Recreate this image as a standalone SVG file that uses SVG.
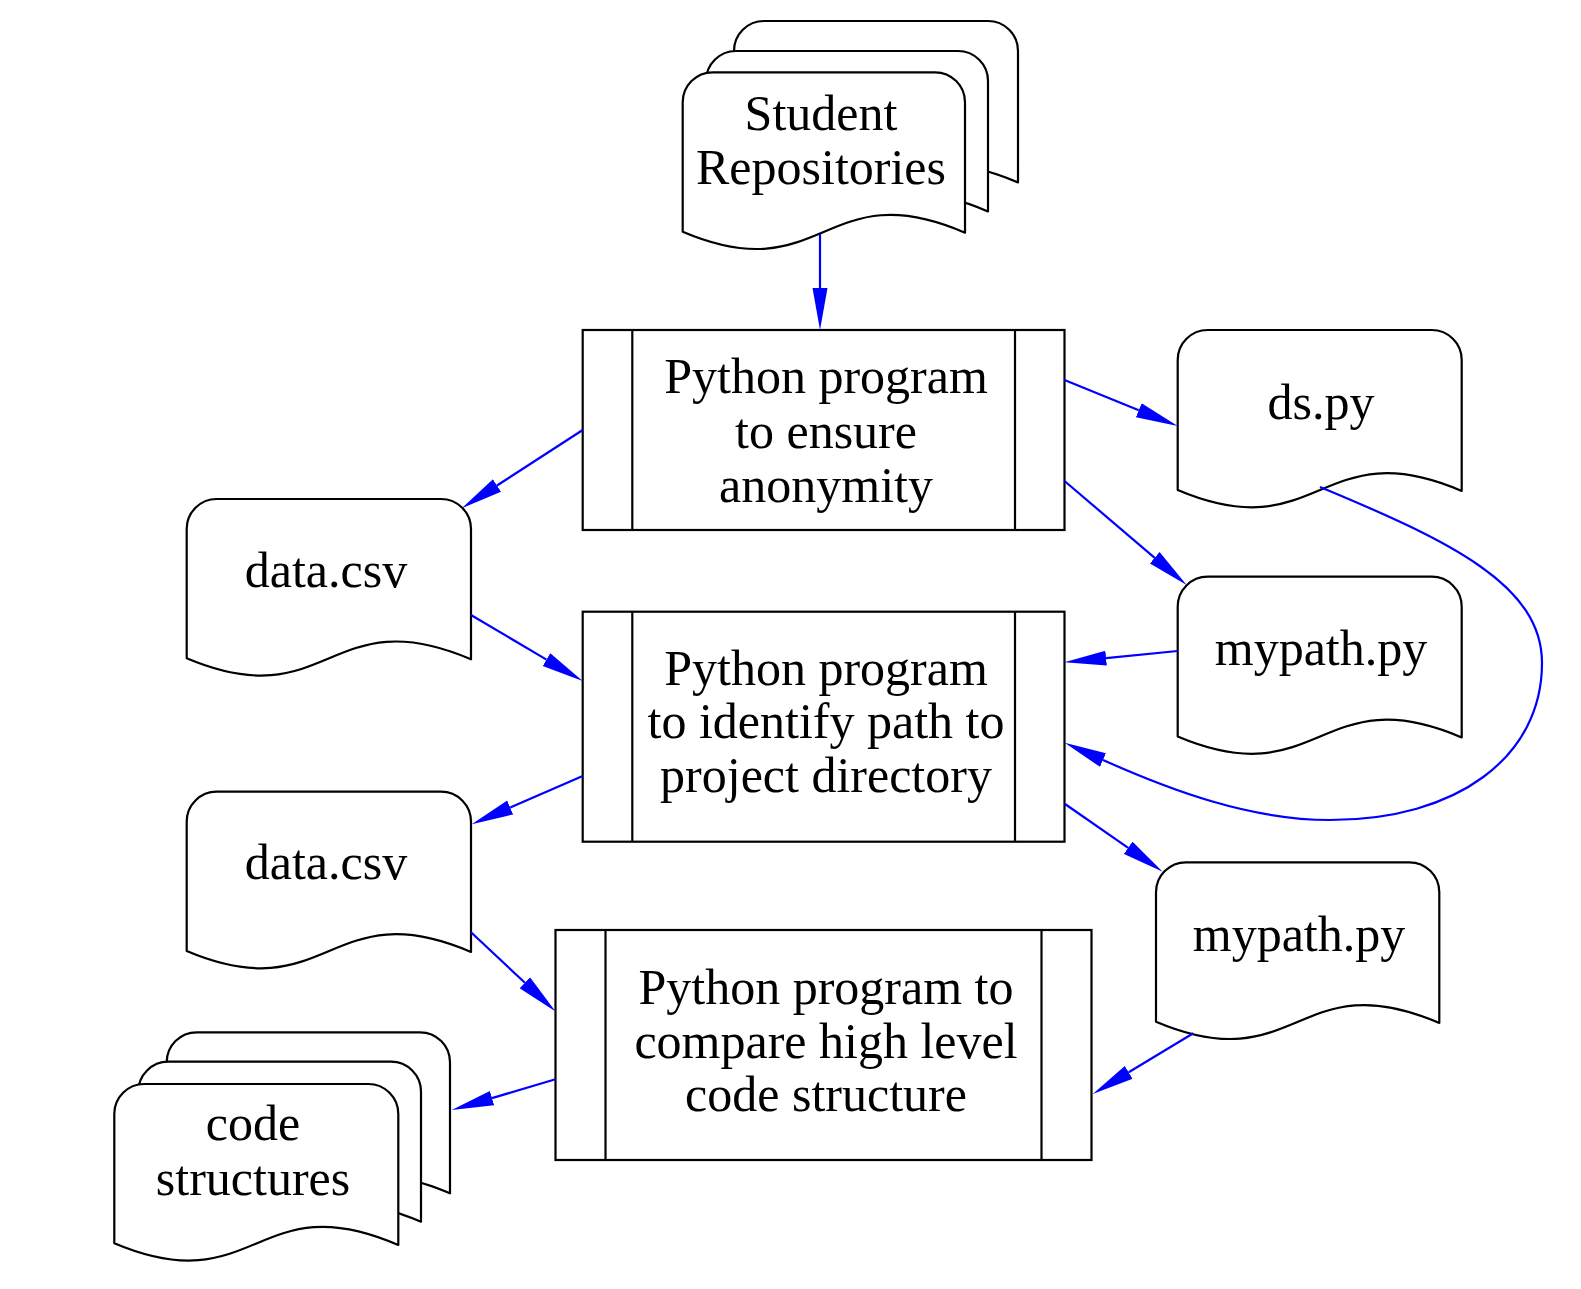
<svg xmlns="http://www.w3.org/2000/svg" width="1581" height="1289" viewBox="0 0 1581 1289">
<style>
.doc{fill:#fff;stroke:#000;stroke-width:2.2;stroke-linejoin:round}
.proc{fill:#fff;stroke:#000;stroke-width:2.2}
.sep{stroke:#000;stroke-width:2.2}
.lbl{font-family:"Liberation Serif","Times New Roman",serif;font-size:50px;fill:#000;text-anchor:middle}
.edge{fill:none;stroke:#0000ff;stroke-width:2.2;marker-end:url(#ah)}
</style>
<defs>
<marker id="ah" markerUnits="userSpaceOnUse" markerWidth="44" markerHeight="16" refX="0" refY="8" orient="auto">
<path d="M0,0.5 L42,8 L0,15.5 Z" fill="#0000ff"/>
</marker>
</defs>
<rect width="1581" height="1289" fill="#fff"/>

<g id="student_repositories">
<path class="doc" d="M734,181.5 V51 A30,30 0 0 1 764,21 H988 A30,30 0 0 1 1018,51 V182.5 C876,121.5 876,241.5 734,181.5 Z"/>
<path class="doc" d="M706,210.5 V81 A30,30 0 0 1 736,51 H958 A30,30 0 0 1 988,81 V211.5 C847,150.5 847,270.5 706,210.5 Z"/>
<path class="doc" d="M682.7,231.7 V102.3 A30,30 0 0 1 712.7,72.3 H935 A30,30 0 0 1 965,102.3 V232.7 C823.8,171.7 823.8,291.7 682.7,231.7 Z"/>
<text class="lbl" x="821" y="130">Student</text>
<text class="lbl" x="821" y="184">Repositories</text>
</g>

<g id="proc_anonymity">
<rect class="proc" x="582.7" y="330" width="481.8" height="200"/>
<line class="sep" x1="632.3" y1="330" x2="632.3" y2="530"/>
<line class="sep" x1="1015" y1="330" x2="1015" y2="530"/>
<text class="lbl" x="826" y="393.3">Python program</text>
<text class="lbl" x="826" y="447.7">to ensure</text>
<text class="lbl" x="826" y="501.7">anonymity</text>
</g>

<g id="ds_py">
<path class="doc" d="M1177.7,490 V360 A30,30 0 0 1 1207.7,330 H1431.7 A30,30 0 0 1 1461.7,360 V491 C1319.7,430 1319.7,550 1177.7,490 Z"/>
<text class="lbl" x="1321" y="419">ds.py</text>
</g>

<g id="mypath_py_1">
<path class="doc" d="M1177.7,736.5 V606.7 A30,30 0 0 1 1207.7,576.7 H1431.7 A30,30 0 0 1 1461.7,606.7 V737.5 C1319.7,676.5 1319.7,796.5 1177.7,736.5 Z"/>
<text class="lbl" x="1321" y="665">mypath.py</text>
</g>

<g id="data_csv_1">
<path class="doc" d="M186.7,658.3 V529 A30,30 0 0 1 216.7,499 H441 A30,30 0 0 1 471,529 V659.3 C328.8,598.3 328.8,718.3 186.7,658.3 Z"/>
<text class="lbl" x="326" y="587.3">data.csv</text>
</g>

<g id="proc_identify_path">
<rect class="proc" x="582.7" y="611.7" width="481.8" height="230"/>
<line class="sep" x1="632.3" y1="611.7" x2="632.3" y2="841.7"/>
<line class="sep" x1="1015" y1="611.7" x2="1015" y2="841.7"/>
<text class="lbl" x="826" y="685">Python program</text>
<text class="lbl" x="826" y="738.3">to identify path to</text>
<text class="lbl" x="826" y="791.7">project directory</text>
</g>

<g id="data_csv_2">
<path class="doc" d="M186.7,951 V821.7 A30,30 0 0 1 216.7,791.7 H441 A30,30 0 0 1 471,821.7 V952 C328.8,891 328.8,1011 186.7,951 Z"/>
<text class="lbl" x="326" y="879.3">data.csv</text>
</g>

<g id="mypath_py_2">
<path class="doc" d="M1156,1021.7 V892.3 A30,30 0 0 1 1186,862.3 H1409.3 A30,30 0 0 1 1439.3,892.3 V1023 C1297.7,961.7 1297.7,1081.7 1156,1021.7 Z"/>
<text class="lbl" x="1299" y="951">mypath.py</text>
</g>

<g id="proc_compare">
<rect class="proc" x="555.5" y="930" width="536" height="230"/>
<line class="sep" x1="605.5" y1="930" x2="605.5" y2="1160"/>
<line class="sep" x1="1041.5" y1="930" x2="1041.5" y2="1160"/>
<text class="lbl" x="826" y="1004">Python program to</text>
<text class="lbl" x="826" y="1057.5">compare high level</text>
<text class="lbl" x="826" y="1111">code structure</text>
</g>

<g id="code_structures">
<path class="doc" d="M166.7,1192.5 V1062.3 A30,30 0 0 1 196.7,1032.3 H420 A30,30 0 0 1 450,1062.3 V1193.3 C308.3,1132.5 308.3,1252.5 166.7,1192.5 Z"/>
<path class="doc" d="M138.3,1221 V1091.7 A30,30 0 0 1 168.3,1061.7 H391 A30,30 0 0 1 421,1091.7 V1221.7 C279.7,1161 279.7,1281 138.3,1221 Z"/>
<path class="doc" d="M114.3,1243.3 V1114 A30,30 0 0 1 144.3,1084 H368.3 A30,30 0 0 1 398.3,1114 V1245 C256.3,1183.3 256.3,1303.3 114.3,1243.3 Z"/>
<text class="lbl" x="253" y="1140">code</text>
<text class="lbl" x="253" y="1195">structures</text>
</g>

<g id="connectors">
<path class="edge" d="M820,234 L820,288"/>
<path class="edge" d="M582.7,430 L497,485.5"/>
<path class="edge" d="M1064.5,380 L1138.8,410.2"/>
<path class="edge" d="M1064.5,481 L1154.7,557.8"/>
<path class="edge" d="M471,615 L546.5,659.6"/>
<path class="edge" d="M1177.7,651 L1106.1,658.1"/>
<path class="edge" d="M1320,487 C1450,541 1542,585 1542,663 C1542,757 1457,820 1330,820 C1250,820 1170,790 1103,760"/>
<path class="edge" d="M582.7,776 L510.2,807.5"/>
<path class="edge" d="M1065,804 L1128.2,847.8"/>
<path class="edge" d="M471,932.3 L524.9,982.8"/>
<path class="edge" d="M1193.3,1033.3 L1128.7,1072.3"/>
<path class="edge" d="M555.5,1079.3 L492,1098.1"/>
</g>
</svg>
